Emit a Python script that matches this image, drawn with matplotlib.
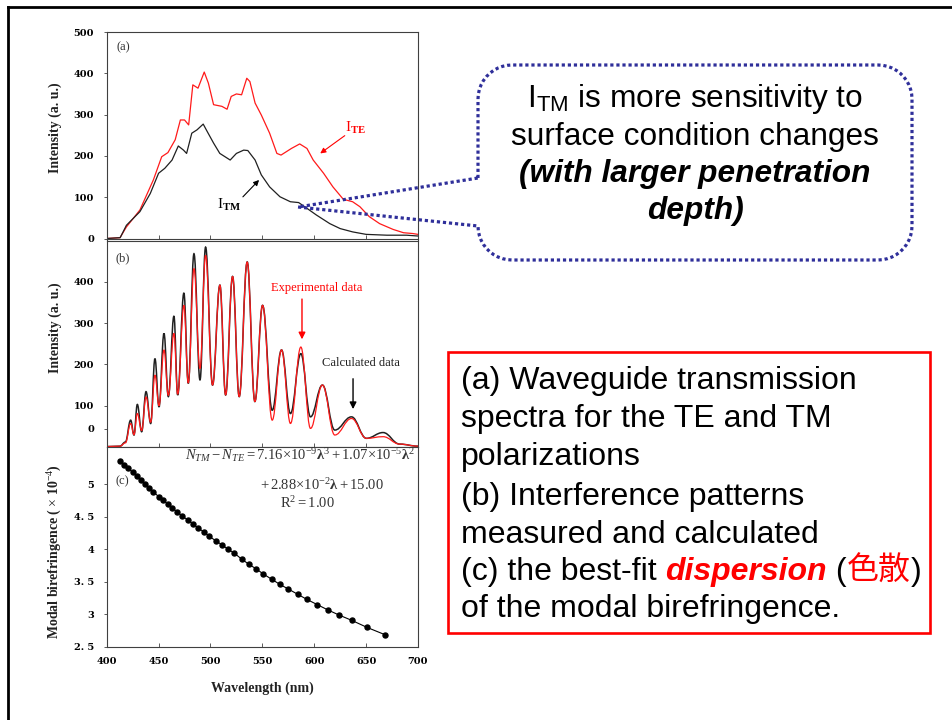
import matplotlib
matplotlib.use('Agg')
import matplotlib.pyplot as plt
import numpy as np
from matplotlib.lines import Line2D
from matplotlib.patches import Rectangle, PathPatch
from matplotlib.path import Path

plt.rcParams['mathtext.fontset'] = 'custom'
plt.rcParams['mathtext.rm'] = 'Liberation Serif'
plt.rcParams['mathtext.it'] = 'Liberation Serif:italic'
plt.rcParams['mathtext.bf'] = 'Liberation Serif:bold'
plt.rcParams['mathtext.sf'] = 'Liberation Sans'

# ---------------- data ----------------
# (a) transmission spectra
a_te_x = [400, 412.8, 419, 432, 445, 453, 459, 466, 471, 475, 479, 483, 488, 494, 498, 503, 511, 516,
          520, 525, 530, 535, 538, 543, 549, 557, 564, 568, 573, 578, 586, 593, 599, 609, 618, 628,
          637, 644, 653, 663, 676, 686, 695, 700]
a_te_y = [0, 2, 28, 69, 142, 198, 208, 239, 287, 287, 275, 372, 364, 403, 376, 324, 320, 313,
          344, 350, 348, 388, 380, 328, 299, 255, 206, 202, 210, 218, 229, 218, 190, 158, 125, 95,
          89, 77, 53, 36, 22, 14, 12, 10]
a_tm_x = [400, 413, 419, 432, 442, 450, 456, 463, 469, 474, 477, 482, 487, 493, 496, 503, 509, 519,
          525, 532, 536, 543, 549, 557, 567, 577, 585, 593, 602, 615, 625, 637, 650, 670, 689, 700]
a_tm_y = [0, 2, 32, 65, 109, 158, 170, 190, 224, 214, 206, 255, 263, 277, 263, 231, 206, 190,
          206, 214, 213, 190, 154, 125, 101, 89, 87, 73, 57, 36, 24, 16, 10, 8, 8, 6]

# (b) interference patterns (extrema of the fringes)
b_x = [400, 412.8, 418, 423.1, 426.3, 429.5, 433.7, 437.9, 442.4, 446.5, 450.4, 455.2, 459.4, 464.8,
       468.4, 474.4, 478.6, 484.1, 489.9, 495.3, 502.0, 509.1, 514.6, 521.3, 527.7, 535.4, 542.8,
       550.2, 559.5, 568.5, 577.1, 587.1, 596.4, 607.9, 619.8, 635.9, 650.3, 666.3, 682.4, 700]
b_calc = [1, 2, 12, 65, 29, 103, 37, 134, 57, 214, 97, 275, 122, 317, 126, 373, 154, 468, 162, 484,
          150, 392, 126, 413, 122, 448, 110, 343, 89, 235, 81, 226, 73, 150, 41, 73, 21, 35, 7, 2]
b_exp = [1, 2, 10, 57, 30, 81, 40, 121, 60, 174, 100, 235, 125, 275, 128, 343, 155, 432, 190, 464,
         150, 392, 126, 413, 122, 448, 110, 343, 65, 235, 57, 242, 45, 150, 29, 69, 21, 25, 7, 2]

# (c) modal birefringence (x 1e-4)
c_x = [413, 417, 421, 425, 429, 433, 437, 441, 445, 450, 454, 459, 463, 468, 473, 478, 483, 488,
       494, 499, 505, 511, 517, 523, 530, 537, 544, 551, 559, 567, 575, 584, 593, 603, 613, 624,
       636, 651, 668]
c_y = [5.36, 5.30, 5.24, 5.18, 5.12, 5.06, 5.00, 4.94, 4.88, 4.81, 4.76, 4.69, 4.64, 4.57, 4.51,
       4.45, 4.39, 4.33, 4.26, 4.20, 4.13, 4.07, 4.00, 3.94, 3.85, 3.77, 3.70, 3.62, 3.54, 3.46,
       3.39, 3.31, 3.23, 3.15, 3.07, 2.99, 2.91, 2.80, 2.69]

x_ticks = [400, 450, 500, 550, 600, 650, 700]
a_yticks = [0, 100, 200, 300, 400, 500]
b_yticks = [44, 100, 200, 300, 400]          # the "0" label sits above the baseline in the original
b_ylabels = ['0', '100', '200', '300', '400']
c_yticks = [2.5, 3, 3.5, 4, 4.5, 5]
c_ylabels = ['2. 5', '3', '3. 5', '4', '4. 5', '5']

# ---------------- figure ----------------
W, H = 953, 720
fig = plt.figure(figsize=(9.53, 7.2), dpi=100)
fig.patch.set_facecolor('white')

def fx(x):
    return x / W

def fy(y):
    return 1 - y / H

L_ax, R_ax = 106.7, 418
axa = fig.add_axes([fx(L_ax), fy(238.5), (R_ax - L_ax) / W, (238.5 - 32) / H])
axb = fig.add_axes([fx(L_ax), fy(447), (R_ax - L_ax) / W, (447 - 240.5) / H])
axc = fig.add_axes([fx(L_ax), fy(647), (R_ax - L_ax) / W, (647 - 447) / H])

tick_font = dict(fontfamily='DejaVu Serif', fontweight='bold', fontsize=7)
for ax in (axa, axb, axc):
    ax.set_xlim(400, 700)
    for s in ax.spines.values():
        s.set_color('#404040')
        s.set_linewidth(0.8)
    ax.tick_params(direction='in', length=3, width=0.6, colors='#404040', pad=7)
    ax.set_xticks(x_ticks)

axa.set_ylim(0, 500)
axb.set_ylim(0, 500)
axc.set_ylim(2.5, 5.57)
axa.set_xticklabels([])
axb.set_xticklabels([])
axc.set_xticks(x_ticks, [str(v) for v in x_ticks], **tick_font, color='black')
axa.set_yticks(a_yticks, [str(v) for v in a_yticks], **tick_font, color='black')
axb.set_yticks(b_yticks, b_ylabels, **tick_font, color='black')
axc.set_yticks(c_yticks, c_ylabels, **tick_font, color='black')
for ax in (axa, axb, axc):
    ax.tick_params(axis='y', length=2, direction='out')

# (a)
axa.plot(a_te_x, a_te_y, color='#ff1a1a', lw=0.9)
axa.plot(a_tm_x, a_tm_y, color='#202020', lw=0.9)
axa.text(415.7, 464, '(a)', fontfamily='Liberation Serif', fontsize=9, ha='center', va='center',
         color='#333333')
axa.text(640, 268, r'$\mathrm{I}_{\mathbf{TE}}$', color='red', fontsize=11, ha='center', va='center')
axa.annotate('', xy=(603.6, 202), xytext=(631.6, 253),
             arrowprops=dict(arrowstyle='-|>', color='red', lw=0.8, mutation_scale=8))
axa.text(518, 81, r'$\mathrm{I}_{\mathbf{TM}}$', color='black', fontsize=11, ha='center', va='center')
axa.annotate('', xy=(548.7, 146.6), xytext=(529.4, 96),
             arrowprops=dict(arrowstyle='-|>', color='black', lw=0.8, mutation_scale=8))

# (b) fringes: the read extrema joined by smooth Bezier segments (flat tangents at extrema)
def fringe_path(xs, ys):
    verts = [(xs[0], ys[0])]
    codes = [Path.MOVETO]
    for i in range(len(xs) - 1):
        dx = xs[i + 1] - xs[i]
        verts += [(xs[i] + 0.4 * dx, ys[i]), (xs[i + 1] - 0.4 * dx, ys[i + 1]), (xs[i + 1], ys[i + 1])]
        codes += [Path.CURVE4] * 3
    return Path(verts, codes)

axb.add_patch(PathPatch(fringe_path(b_x, b_calc), fill=False, edgecolor='#202020', lw=1.1))
axb.add_patch(PathPatch(fringe_path(b_x, b_exp), fill=False, edgecolor='#ff1a1a', lw=0.9))
axb.text(415.7, 457, '(b)', fontfamily='Liberation Serif', fontsize=9, ha='center', va='center',
         color='#333333')
axb.text(602.8, 385, 'Experimental data', color='red', fontfamily='Liberation Serif', fontsize=9,
         ha='center', va='center')
axb.annotate('', xy=(588.2, 254), xytext=(588.2, 365),
             arrowprops=dict(arrowstyle='-|>', color='red', lw=1.0, mutation_scale=10))
axb.text(645, 203, 'Calculated data', color='#202020', fontfamily='Liberation Serif', fontsize=9,
         ha='center', va='center')
axb.annotate('', xy=(637.4, 85), xytext=(637.4, 172),
             arrowprops=dict(arrowstyle='-|>', color='black', lw=1.0, mutation_scale=10))

# (c)
axc.plot(c_x, c_y, color='black', lw=0.8, marker='o', ms=3.6)
axc.text(414.7, 5.04, '(c)', fontfamily='Liberation Serif', fontsize=9, ha='center', va='center',
         color='#333333')
axc.text(697, 5.45, r'$N_{TM} - N_{TE} = 7.16{\times}10^{-9}\mathbf{\lambda}^3 + 1.07{\times}10^{-5}\mathbf{\lambda}^2$',
         fontsize=10.5, ha='right', va='center', color='#333333')
axc.text(607, 4.99, r'$+\,2.88{\times}10^{-2}\mathbf{\lambda} + 15.00$', fontsize=10.5, ha='center',
         va='center', color='#333333')
axc.text(593, 4.71, r'$\mathrm{R}^2 = 1.00$', fontsize=10.5, ha='center', va='center', color='#333333')

# axis labels
lab_font = dict(fontfamily='Liberation Serif', fontweight='bold', fontsize=10, color='#222222')
fig.text(fx(55), fy(128), 'Intensity (a. u.)', rotation=90, ha='center', va='center', **lab_font)
fig.text(fx(55), fy(328), 'Intensity (a. u.)', rotation=90, ha='center', va='center', **lab_font)
fig.text(fx(55), fy(552), r'Modal birefringence ( $\times$ 10$^{-4}$)', rotation=90, ha='center',
         va='center', **lab_font)
fig.text(fx(262), fy(688), 'Wavelength (nm)', ha='center', va='center', **lab_font)

# slide frame
fig.add_artist(Line2D([fx(8), 1], [fy(7), fy(7)], transform=fig.transFigure, color='black', lw=2))
fig.add_artist(Line2D([fx(8), fx(8)], [fy(7), 0], transform=fig.transFigure, color='black', lw=2))

# callout bubble
Lc, Rc, Tc, Bc, rc = 478, 912, 65, 260, 34
pts = [(Lc, 178)]
def arc(cx, cy, a0, a1):
    return [(cx + rc * np.cos(t), cy - rc * np.sin(t)) for t in np.linspace(a0, a1, 12)]
pts += arc(Lc + rc, Tc + rc, np.pi, np.pi / 2)
pts += arc(Rc - rc, Tc + rc, np.pi / 2, 0)
pts += arc(Rc - rc, Bc - rc, 0, -np.pi / 2)
pts += arc(Lc + rc, Bc - rc, -np.pi / 2, -np.pi)
pts += [(Lc, 226), (298, 207), (Lc, 178)]
fig.add_artist(Line2D([fx(x) for x, y in pts], [fy(y) for x, y in pts],
                      transform=fig.transFigure, color='#2f2f9a', lw=2.3,
                      linestyle=(0, (1.0, 0.9)), dash_capstyle='butt'))

call_font = dict(fontfamily='Liberation Sans', fontsize=22.8, color='black', ha='center',
                 va='baseline')
cx = fx(695)
fig.text(cx, fy(106.7), r'$\mathsf{I}_{\mathsf{TM}}$ is more sensitivity to', **call_font)
fig.text(cx, fy(145), 'surface condition changes', **call_font)
fig.text(cx, fy(182), '(with larger penetration', fontweight='bold', fontstyle='italic', **call_font)
fig.text(cx, fy(219), 'depth)', fontweight='bold', fontstyle='italic', **call_font)

# red description box
fig.add_artist(Rectangle((fx(448), fy(633)), (930 - 448) / W, (633 - 352) / H, fill=False,
                         edgecolor='#ff0000', lw=1.9, transform=fig.transFigure))
FS = 23
box_font = dict(fontfamily='Liberation Sans', fontsize=FS, va='baseline', ha='left')
lines = ['(a) Waveguide transmission', 'spectra for the TE and TM', 'polarizations',
         '(b) Interference patterns', 'measured and calculated']
base = [389, 427, 465, 505, 543, 580, 617]
for t, yb in zip(lines, base[:5]):
    fig.text(fx(461), fy(yb), t, color='black', **box_font)
fig.text(fx(461), fy(617), 'of the modal birefringence.', color='black', **box_font)

renderer = fig.canvas.get_renderer()
xcur = 461
segs = [('(c) the best-fit ', dict(color='black', fontfamily='Liberation Sans')),
        ('dispersion', dict(color='#ff0000', fontfamily='Liberation Sans', fontweight='bold',
                            fontstyle='italic')),
        (' (', dict(color='black', fontfamily='Liberation Sans')),
        ('色散', dict(color='#ff0000', fontfamily=['Noto Sans CJK TC', 'DejaVu Sans'])),
        (')', dict(color='black', fontfamily='Liberation Sans'))]
for s, kw in segs:
    t = fig.text(fx(xcur), fy(580), s, fontsize=FS, va='baseline', ha='left', **kw)
    bb = t.get_window_extent(renderer=renderer)
    xcur += bb.width

fig.savefig('out.png', dpi=100)
